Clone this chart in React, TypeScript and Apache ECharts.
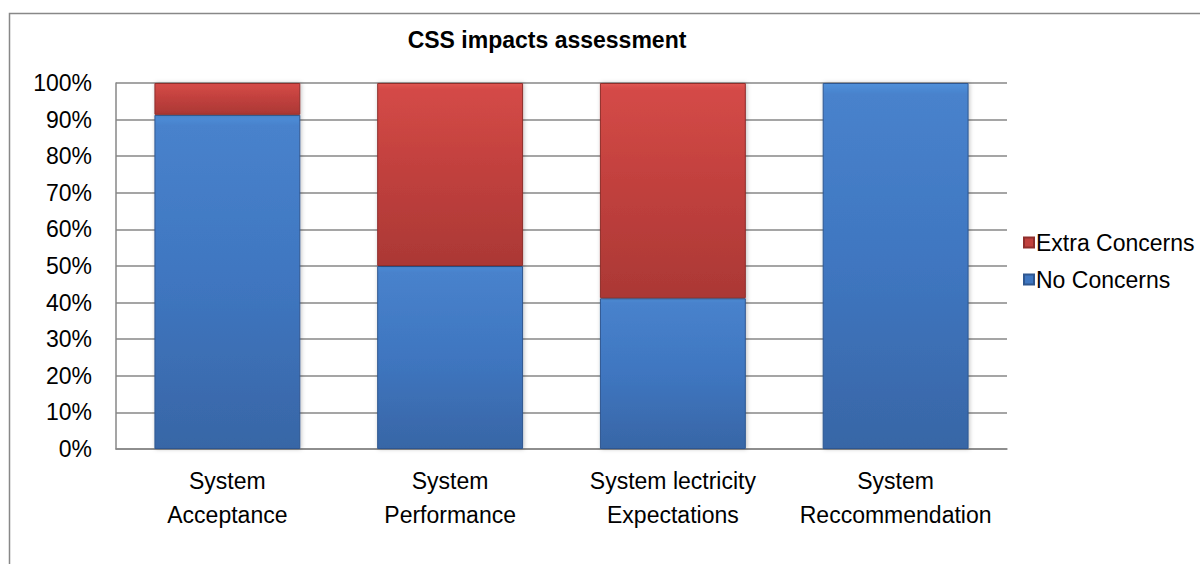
import React, { useEffect, useRef } from "react";
import * as echarts from "echarts";

const categories = [
  "System\nAcceptance",
  "System\nPerformance",
  "System lectricity\nExpectations",
  "System\nReccommendation",
];
const noConcerns = [91.3, 50, 41.2, 100];
const extraConcerns = [8.7, 50, 58.8, 0];
const yTicks = [0, 10, 20, 30, 40, 50, 60, 70, 80, 90, 100];

const FONT = "'Liberation Sans', Arial, sans-serif";

export default function App() {
  const ref = useRef<HTMLDivElement>(null);
  useEffect(() => {
    if (!ref.current) return;
    const chart = echarts.init(ref.current, null, { renderer: "svg" });
    const blue = new echarts.graphic.LinearGradient(0, 0, 0, 1, [
      { offset: 0, color: "#5090da" },
      { offset: 0.03, color: "#4882cc" },
      { offset: 0.5, color: "#3f76c0" },
      { offset: 1, color: "#3866a6" },
    ]);
    const red = new echarts.graphic.LinearGradient(0, 0, 0, 1, [
      { offset: 0, color: "#e05552" },
      { offset: 0.03, color: "#d44a47" },
      { offset: 0.5, color: "#c0403d" },
      { offset: 1, color: "#ab3835" },
    ]);
    chart.setOption({
      animation: false,
      backgroundColor: "#ffffff",
      title: {
        text: "CSS impacts assessment",
        left: 542,
        textAlign: "center",
        top: 23,
        textStyle: { fontFamily: FONT, fontSize: 23, fontWeight: "bold", color: "#000" },
      },
      graphic: [
        {
          type: "rect",
          shape: { x: 9.5, y: 13.5, width: 1400, height: 800 },
          style: { fill: "none", stroke: "#888888", lineWidth: 1.5 },
          silent: true,
        },
      ],
      legend: {
        orient: "vertical",
        left: 1018,
        top: 226,
        itemWidth: 10,
        itemHeight: 10,
        itemGap: 14,
        data: [
          { name: "Extra Concerns", itemStyle: { color: "#c0403d" } },
          { name: "No Concerns", itemStyle: { color: "#3f76c0" } },
        ],
        textStyle: { fontFamily: FONT, fontSize: 23, color: "#000", padding: [0, 0, 0, -3] },
        icon: "rect",
      },
      grid: { left: 116, top: 83, width: 891, height: 366, containLabel: false },
      xAxis: {
        type: "category",
        data: categories,
        axisTick: { show: false },
        axisLine: { lineStyle: { color: "#878787", width: 1.5 } },
        axisLabel: {
          fontFamily: FONT,
          fontSize: 23,
          color: "#000",
          lineHeight: 34,
          margin: 15,
          interval: 0,
        },
      },
      yAxis: {
        type: "value",
        min: yTicks[0],
        max: yTicks[yTicks.length - 1],
        interval: 10,
        axisLine: { show: true, lineStyle: { color: "#878787", width: 1.5 } },
        axisTick: { show: false },
        splitLine: { lineStyle: { color: "#878787", width: 1.5 } },
        axisLabel: {
          formatter: "{value}%",
          fontFamily: FONT,
          fontSize: 23,
          color: "#000",
          margin: 24,
        },
      },
      series: [
        {
          name: "No Concerns",
          type: "bar",
          stack: "a",
          barWidth: "65.5%",
          data: noConcerns,
          itemStyle: {
            color: blue,
            borderColor: "#2f5790",
            borderWidth: 1,
            shadowColor: "rgba(0,0,0,0.25)",
            shadowBlur: 4,
            shadowOffsetX: 1,
          },
        },
        {
          name: "Extra Concerns",
          type: "bar",
          stack: "a",
          barWidth: "65.5%",
          data: extraConcerns,
          itemStyle: {
            color: red,
            borderColor: "#8f2e2c",
            borderWidth: 1,
            shadowColor: "rgba(0,0,0,0.25)",
            shadowBlur: 4,
            shadowOffsetX: 1,
          },
        },
      ],
    });
    return () => chart.dispose();
  }, []);
  return (
    <div
      ref={ref}
      style={{ position: "fixed", left: 0, top: 0, width: 1200, height: 564 }}
    />
  );
}
